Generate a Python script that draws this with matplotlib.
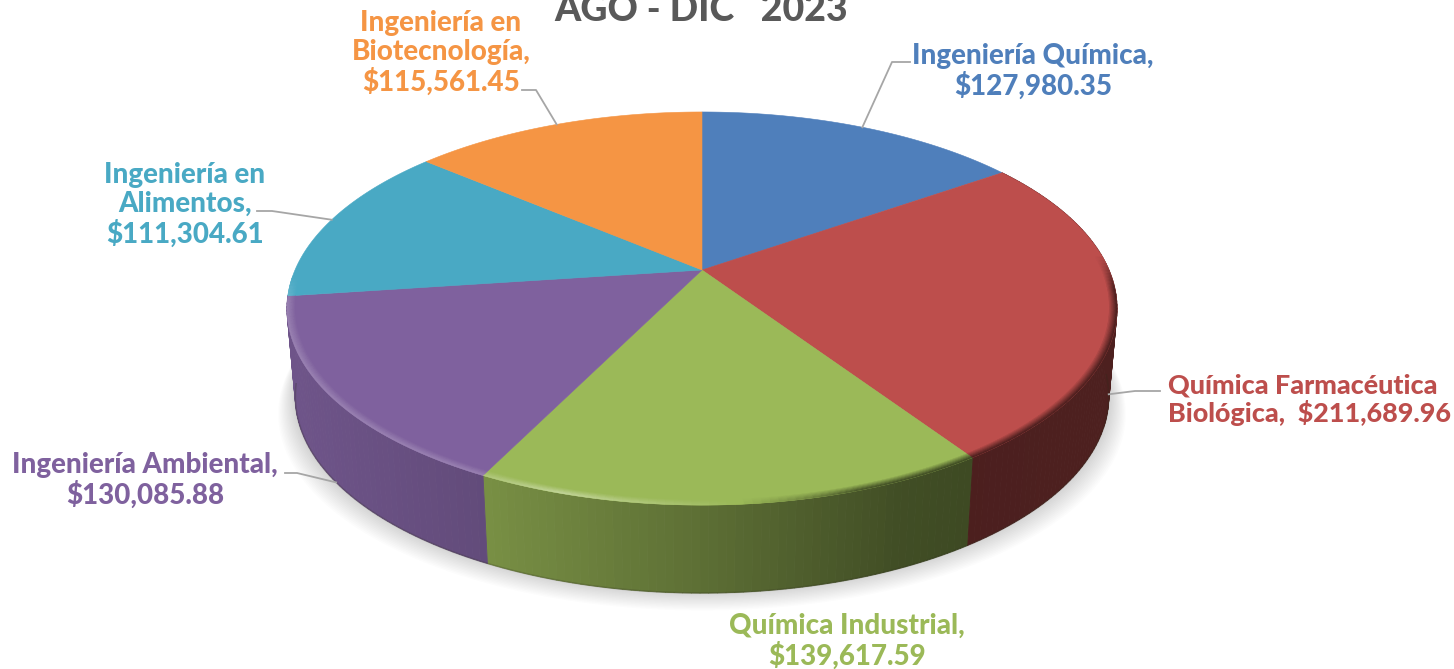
import numpy as np
import matplotlib
matplotlib.use("Agg")
import matplotlib.pyplot as plt
from matplotlib.collections import PolyCollection
from matplotlib.colors import to_rgb

title = "AGO - DIC   2023"
names = ["Ingeniería Química,", "Química Farmacéutica\nBiológica, ", "Química Industrial,",
         "Ingeniería Ambiental,", "Ingeniería en\nAlimentos,", "Ingeniería en\nBiotecnología,"]
values = [127980.35, 211689.96, 139617.59, 130085.88, 111304.61, 115561.45]
colors = ["#4F7FBB", "#BD4E4C", "#9BB958", "#7F619E", "#49A9C4", "#F59544"]

# label layout, in pixels of the 1454x669 picture
label_xy = [(1033, 71), (1309, 400), (847, 641), (145, 480), (185, 205), (441, 53)]
label_size = [20, 19.4, 20, 20, 20, 20]
elbow_xy = [[(910, 62), (892, 62)], [(1160, 391), (1135, 391)], None,
            [(285, 473), (297, 473)], [(257, 211), (272, 211)], [(522, 90), (536, 90)]]

# pie geometry with a little perspective
cx, cy = 702, 270
a, b, k = 407, 189, 0.196
drop, shrink = 88, 0.98

plt.rcParams["font.family"] = ["Lato", "DejaVu Sans"]


def rim(theta, r=1.0, down=0.0, scale=1.0):
    # theta in degrees, clockwise from the top of the pie
    t = np.radians(theta)
    u, v = r*np.sin(t), r*np.cos(t)
    w = 1 + k*v
    return cx + scale*a*u/w, cy - b*v/w + down


def wall_shade(x):
    return np.interp(x, [290, 490, 700, 900, 965, 1120], [.87, .77, .6, .42, .4, .41])


def edge_color(base, x):
    # bevel is light on the left of the pie, turns into the wall colour on the right
    base = np.array(base)
    light = np.interp(x, [280, 480, 560, 740], [.2, .2, .4, 0])
    c = base + (1 - base)*light
    dark = np.interp(x, [740, 860], [0, 1])
    return c*(1 - dark) + base*wall_shade(x)*dark


fractions = np.array(values)/sum(values)
edges = np.concatenate([[0], np.cumsum(fractions)*360])
mids = (edges[:-1] + edges[1:])/2

fig = plt.figure(figsize=(14.54, 6.69), dpi=100)
ax = fig.add_axes([0, 0, 1, 1])
ax.set_xlim(0, 1454)
ax.set_ylim(669, 0)
ax.axis("off")

# soft shadow under the pie
ring = np.linspace(0, 360, 361)
for i in range(16):
    x, y = rim(ring, scale=shrink)
    y = y + drop + i*1.3 - 2
    x = cx + (x - cx)*(1.0 + i*0.0028)
    ax.fill(x, y, color="black", alpha=0.012, lw=0, zorder=1)

# side wall, one thin facet per step so the shade can change along it
polys, faces = [], []
for i, c in enumerate(colors):
    if not 90 < mids[i] < 270:
        continue
    rgb = np.array(to_rgb(c))
    th = np.arange(edges[i], edges[i+1] + 1, 1.0)
    th[-1] = edges[i+1]
    for t0, t1 in zip(th[:-1], th[1:]):
        x0, y0 = rim(t0)
        x1, y1 = rim(t1)
        x2, y2 = rim(t1, down=drop, scale=shrink)
        x3, y3 = rim(t0, down=drop, scale=shrink)
        polys.append([(x0, y0), (x1, y1), (x2, y2), (x3, y3)])
        faces.append(rgb*wall_shade((x0 + x1)/2))
ax.add_collection(PolyCollection(polys, facecolors=faces, edgecolors=faces, linewidths=0.6, zorder=2))

# dark line at the foot of the wall
th = np.linspace(95, edges[4], 200)
x, y = rim(th, down=drop, scale=shrink)
ax.plot(x, y, color="#2a2a1a", alpha=0.22, lw=1.2, zorder=3)

# top of the slices
for i, c in enumerate(colors):
    th = np.linspace(edges[i], edges[i+1], 120)
    x, y = rim(th)
    ax.fill(np.r_[cx, x], np.r_[cy, y], color=c, lw=0.4, zorder=4)

# bevel round the front edge of the top
polys, faces = [], []
steps = np.linspace(0, 1, 7)
for i, c in enumerate(colors):
    rgb = np.array(to_rgb(c))
    lo, hi = max(edges[i], 85), min(edges[i+1], 268)
    if hi <= lo:
        continue
    th = np.arange(lo, hi + 1, 1.0)
    th[-1] = hi
    for t0, t1 in zip(th[:-1], th[1:]):
        xm, _ = rim((t0 + t1)/2)
        edge = edge_color(rgb, xm)
        fade = np.clip((t0 - 85)/10, 0, 1)*np.clip((268 - t0)/8, 0, 1)
        for s0, s1 in zip(steps[:-1], steps[1:]):
            r0, r1 = 0.982 + 0.018*s0, 0.982 + 0.018*s1
            p = [rim(t0, r0), rim(t1, r0), rim(t1, r1), rim(t0, r1)]
            polys.append(p)
            faces.append(rgb + (edge - rgb)*s1*fade)
ax.add_collection(PolyCollection(polys, facecolors=faces, edgecolors=faces, linewidths=0.3, zorder=5))

# labels and leader lines
for i, (name, val, c) in enumerate(zip(names, values, colors)):
    if "\n" in name and name.endswith(" "):
        text = f"{name} ${val:,.2f}"
        align = "left"
    else:
        text = f"{name}\n${val:,.2f}"
        align = "center"
    ax.text(label_xy[i][0], label_xy[i][1], text, color=c, fontsize=label_size[i], fontweight=900,
            ha="center", va="center", ma=align, linespacing=1.12, zorder=7)
    if elbow_xy[i] is None:
        continue
    # leaders on the front half end at the foot of the wall
    if 90 < mids[i] < 270:
        ex, ey = rim(mids[i], down=drop, scale=shrink)
    else:
        ex, ey = rim(mids[i])
    xs = [p[0] for p in elbow_xy[i]] + [ex]
    ys = [p[1] for p in elbow_xy[i]] + [ey]
    ax.plot(xs, ys, color="#A6A6A6", lw=1.3, zorder=6)

ax.text(701, 21, title, color="#595959", fontsize=27, fontweight=900, ha="center", va="baseline", zorder=7)

fig.savefig("out.png", dpi=100, facecolor="white")
